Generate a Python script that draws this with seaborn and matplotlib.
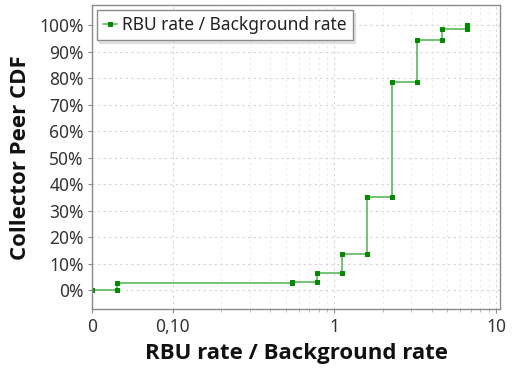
import matplotlib
matplotlib.use("Agg")
import matplotlib.pyplot as plt
import matplotlib.ticker as mticker
import seaborn as sns
import pandas as pd

# ---- data ----
ratio_values = [0.0, 0.0306, 0.548, 0.782, 1.116, 1.59, 2.27, 3.24, 4.62, 6.6]
cdf_percent = [0.0, 2.5, 3.0, 6.5, 13.6, 35.2, 78.5, 94.4, 98.5, 100.0]
x_tick_values = [0, 0.1, 1, 10]
x_tick_labels = ["0", "0,10", "1", "10"]
y_tick_values = [0, 10, 20, 30, 40, 50, 60, 70, 80, 90, 100]
series_name = "RBU rate / Background rate"

# step vertices (each step drawn with a point at both ends)
xs, ys = [ratio_values[0]], [cdf_percent[0]]
for i in range(1, len(ratio_values)):
    xs += [ratio_values[i], ratio_values[i]]
    ys += [cdf_percent[i - 1], cdf_percent[i]]
df = pd.DataFrame({"x": xs, "y": ys, "s": series_name})

sns.set_theme(style="white")
plt.rcParams["font.family"] = ["Noto Sans", "DejaVu Sans"]

fig = plt.figure(figsize=(5.19, 3.70), dpi=100)
ax = fig.add_axes([0.1773, 0.164, 0.7861, 0.8225])

sns.lineplot(data=df, x="x", y="y", hue="s", sort=False, estimator=None,
             palette=["#5cb85c"], linewidth=1.2, marker="s", markersize=2.6,
             markerfacecolor="#008a00", markeredgecolor="#008a00", ax=ax)

ax.set_xscale("symlog", linthresh=0.1, linscale=0.45)
ax.set_xlim(0, 10.6)
ax.set_ylim(-7.3, 107.7)

ax.xaxis.set_major_locator(mticker.FixedLocator(x_tick_values))
ax.xaxis.set_major_formatter(mticker.FixedFormatter(x_tick_labels))
ax.xaxis.set_minor_locator(mticker.FixedLocator(
    [0.2, 0.3, 0.4, 0.5, 0.6, 0.7, 0.8, 0.9, 2, 3, 4, 5, 6, 7, 8, 9]))
ax.xaxis.set_minor_formatter(mticker.NullFormatter())
ax.set_yticks(y_tick_values)
ax.yaxis.set_major_formatter(mticker.FuncFormatter(lambda v, p: f"{v:.0f}%"))

ax.grid(True, which="major", linestyle=(0, (2, 3)), color="#d4d4d4", linewidth=0.8)
ax.grid(True, which="minor", axis="x", linestyle=(0, (2, 3)), color="#ececec", linewidth=0.8)

for sp in ax.spines.values():
    sp.set_color("#8a8a8a")
    sp.set_linewidth(1.0)

ax.tick_params(axis="both", which="major", labelsize=12.5, labelcolor="#333333",
               color="#8a8a8a", length=3, width=0.8, direction="out", pad=3,
               bottom=True, left=True)
ax.tick_params(axis="x", which="minor", color="#b0b0b0", length=2, width=0.6,
               bottom=True)

label_font = ["Open Sans", "DejaVu Sans"]
ax.set_xlabel("RBU rate / Background rate", fontsize=16, fontweight="bold",
              family=label_font, color="#111111", labelpad=5)
ax.set_ylabel("Collector Peer CDF", fontsize=16, fontweight="bold",
              family=label_font, color="#111111", labelpad=6)

leg = ax.legend(loc="upper left", bbox_to_anchor=(0.0115, 0.9836), borderaxespad=0,
                fontsize=12.5, handlelength=0.8, handletextpad=0.3, borderpad=0.35,
                fancybox=False, frameon=True, edgecolor="#8a8a8a",
                shadow={"color": "0.8"})
leg.get_frame().set_linewidth(1.0)
for t in leg.get_texts():
    t.set_color("#222222")

fig.savefig("out.png", dpi=100)
